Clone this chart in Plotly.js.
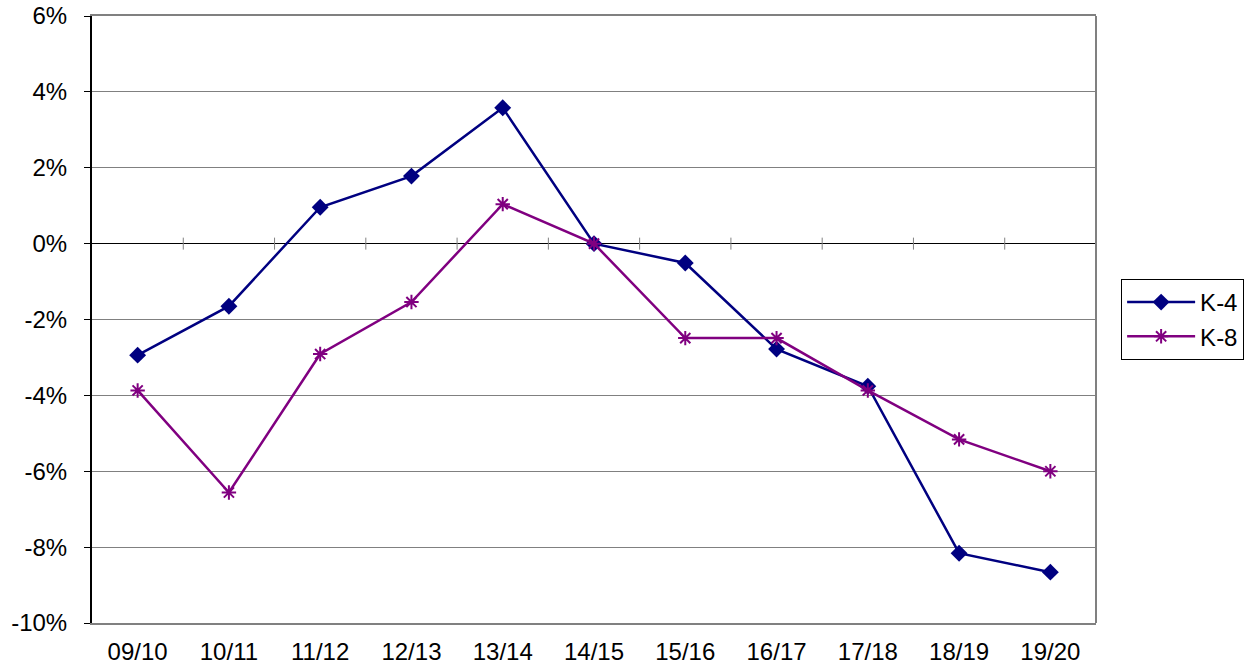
<!DOCTYPE html>
<html>
<head>
<meta charset="utf-8">
<script src="https://cdn.plot.ly/plotly-3.0.1.min.js"></script>
<style>html,body{margin:0;padding:0;background:#fff;}#chart{width:1255px;height:668px;}</style>
</head>
<body>
<div id="chart"></div>
<script>
const categories = ["09/10","10/11","11/12","12/13","13/14","14/15","15/16","16/17","17/18","18/19","19/20"];
const k4 = [-2.94, -1.65, 0.96, 1.78, 3.58, 0.0, -0.51, -2.78, -3.76, -8.16, -8.66];
const k8 = [-3.87, -6.56, -2.91, -1.54, 1.04, 0.0, -2.49, -2.49, -3.87, -5.16, -6.0];
const yTicks = [-10, -8, -6, -4, -2, 0, 2, 4, 6];

const font = "Liberation Sans, Arial, sans-serif";

const traces = [
  {x: categories, y: k4, name: "K-4", type: "scatter", mode: "lines+markers",
   line: {color: "#000080", width: 2.5},
   marker: {symbol: "diamond", size: 13, color: "#000080"}},
  {x: categories, y: k8, name: "K-8", type: "scatter", mode: "lines+markers",
   line: {color: "#800080", width: 2.5},
   marker: {symbol: "asterisk-open", size: 12, color: "#800080", line: {color: "#800080", width: 2}}}
];

// category boundary tick marks on the zero line
const shapes = [];
for (let i = 0; i < categories.length; i++) {
  shapes.push({type: "line", xref: "x", yref: "y", ysizemode: "pixel", yanchor: 0,
    x0: i + 0.5, x1: i + 0.5, y0: -6, y1: 6, line: {color: "#808080", width: 1}});
}
shapes.push({type: "line", xref: "paper", yref: "paper", x0: 1, x1: 1, y0: 0, y1: 1,
  line: {color: "#808080", width: 2}});

const layout = {
  width: 1255, height: 668,
  margin: {l: 92, r: 158, t: 16, b: 45},
  paper_bgcolor: "#fff", plot_bgcolor: "#fff",
  font: {family: font, size: 24, color: "#000"},
  showlegend: true,
  legend: {x: 1.024, xanchor: "left", y: 0.5, yanchor: "middle",
    bordercolor: "#000", borderwidth: 1, font: {size: 24, family: font},
    tracegroupgap: 0, itemwidth: 68},
  xaxis: {type: "category", range: [-0.5, 10.5], showgrid: false, zeroline: false,
    showline: true, mirror: true, linecolor: "#808080", linewidth: 2,
    ticks: "", ticklabelstandoff: 6, tickfont: {size: 24, family: font}, fixedrange: true},
  yaxis: {range: [-10, 6], tickvals: yTicks, ticktext: yTicks.map(v => v + "%"),
    showgrid: true, gridcolor: "#808080", gridwidth: 1,
    zeroline: true, zerolinecolor: "#000", zerolinewidth: 1,
    showline: true, linecolor: "#000", linewidth: 2,
    ticks: "outside", ticklen: 6, tickcolor: "#000", tickwidth: 1,
    ticklabelstandoff: 12,
    tickfont: {size: 24, family: font}, fixedrange: true},
  shapes: shapes
};

Plotly.newPlot("chart", traces, layout, {displayModeBar: false, staticPlot: true});
</script>
</body>
</html>
